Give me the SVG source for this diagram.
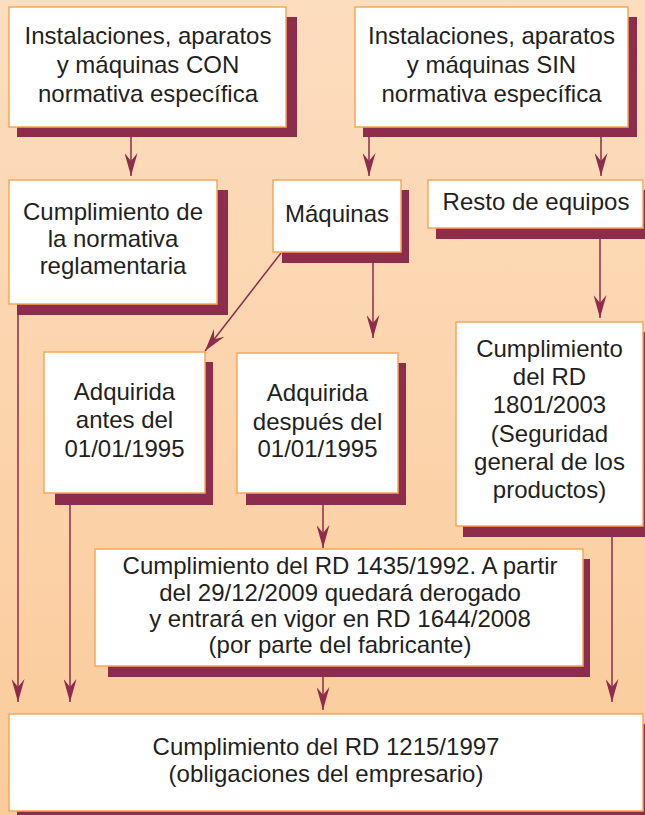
<svg xmlns="http://www.w3.org/2000/svg" width="645" height="815" viewBox="0 0 645 815">
<defs>
<linearGradient id="bg" x1="0" y1="0" x2="0" y2="1">
<stop offset="0" stop-color="#FCDDBE"/>
<stop offset="1" stop-color="#FBCB9A"/>
</linearGradient>
<marker id="ah" viewBox="0 0 23 13" markerWidth="23" markerHeight="13" markerUnits="userSpaceOnUse" refX="23" refY="6.5" orient="auto">
<path d="M0,0 L23,6.5 L0,13 L8,6.5 Z" fill="#8E2D4B"/>
</marker>
</defs>
<style>
.box{fill:#FFFFFF;stroke:#F9A65A;stroke-width:1.5}
.sh{fill:#8E2D4B}
.t{font-family:"Liberation Sans",Arial,Helvetica,sans-serif;font-size:24px;fill:#231F20;text-anchor:middle}
.c{stroke:#8E2D4B;stroke-width:1.5;fill:none;marker-end:url(#ah)}
</style>
<rect x="0" y="0" width="645" height="815" fill="url(#bg)"/>

<g id="connectors">
<line class="c" x1="131" y1="137" x2="131" y2="176"/>
<line class="c" x1="369" y1="137" x2="369" y2="176"/>
<line class="c" x1="601" y1="137" x2="601" y2="176"/>
<line class="c" x1="281" y1="253" x2="205" y2="351"/>
<line class="c" x1="373" y1="263" x2="373" y2="338"/>
<line class="c" x1="600" y1="239" x2="600" y2="318"/>
<line class="c" x1="18" y1="315" x2="18" y2="702"/>
<line class="c" x1="70" y1="505" x2="70" y2="702"/>
<line class="c" x1="323" y1="505" x2="323" y2="548"/>
<line class="c" x1="323" y1="677" x2="323" y2="710"/>
<line class="c" x1="612" y1="537" x2="612" y2="702"/>
</g>

<g id="con">
<rect class="sh" x="17" y="17" width="280" height="120"/>
<rect class="box" x="9" y="7" width="277" height="120"/>
<text class="t" x="148" y="44">Instalaciones, aparatos</text>
<text class="t" x="148" y="73">y máquinas CON</text>
<text class="t" x="148" y="102">normativa específica</text>
</g>

<g id="sin">
<rect class="sh" x="363" y="17" width="274" height="120"/>
<rect class="box" x="355" y="7" width="273" height="120"/>
<text class="t" x="491.5" y="44">Instalaciones, aparatos</text>
<text class="t" x="491.5" y="73">y máquinas SIN</text>
<text class="t" x="491.5" y="102">normativa específica</text>
</g>

<g id="normativa">
<rect class="sh" x="17" y="190" width="211" height="125"/>
<rect class="box" x="9" y="180" width="208" height="124"/>
<text class="t" x="113" y="220">Cumplimiento de</text>
<text class="t" x="113" y="247">la normativa</text>
<text class="t" x="113" y="274">reglamentaria</text>
</g>

<g id="maquinas">
<rect class="sh" x="282" y="190" width="127" height="73"/>
<rect class="box" x="273" y="180" width="128" height="72"/>
<text class="t" x="337" y="222">Máquinas</text>
</g>

<g id="resto">
<rect class="sh" x="436" y="190" width="214" height="49"/>
<rect class="box" x="428" y="180" width="215" height="48"/>
<text class="t" x="536" y="210">Resto de equipos</text>
</g>

<g id="rd1801">
<rect class="sh" x="463" y="332" width="187" height="205"/>
<rect class="box" x="456" y="322" width="187" height="204"/>
<text class="t" x="549.5" y="357">Cumplimiento</text>
<text class="t" x="549.5" y="385">del RD</text>
<text class="t" x="549.5" y="413">1801/2003</text>
<text class="t" x="549.5" y="442">(Seguridad</text>
<text class="t" x="549.5" y="470">general de los</text>
<text class="t" x="549.5" y="498">productos)</text>
</g>

<g id="antes">
<rect class="sh" x="55" y="362" width="158" height="143"/>
<rect class="box" x="44" y="352" width="161" height="141"/>
<text class="t" x="124.5" y="400">Adquirida</text>
<text class="t" x="124.5" y="428">antes del</text>
<text class="t" x="124.5" y="457">01/01/1995</text>
</g>

<g id="despues">
<rect class="sh" x="246" y="363" width="160" height="142"/>
<rect class="box" x="237" y="353" width="161" height="140"/>
<text class="t" x="317.5" y="401">Adquirida</text>
<text class="t" x="317.5" y="430">después del</text>
<text class="t" x="317.5" y="457">01/01/1995</text>
</g>

<g id="rd1435">
<rect class="sh" x="108" y="559" width="482" height="118"/>
<rect class="box" x="95" y="549" width="488" height="117"/>
<text class="t" x="340" y="574">Cumplimiento del RD 1435/1992. A partir</text>
<text class="t" x="340" y="601">del 29/12/2009 quedará derogado</text>
<text class="t" x="340" y="627">y entrará en vigor en RD 1644/2008</text>
<text class="t" x="340" y="653">(por parte del fabricante)</text>
</g>

<g id="rd1215">
<rect class="sh" x="17" y="724" width="635" height="96"/>
<rect class="box" x="9" y="714" width="634" height="97"/>
<text class="t" x="326" y="755">Cumplimiento del RD 1215/1997</text>
<text class="t" x="326" y="782">(obligaciones del empresario)</text>
</g>
</svg>
